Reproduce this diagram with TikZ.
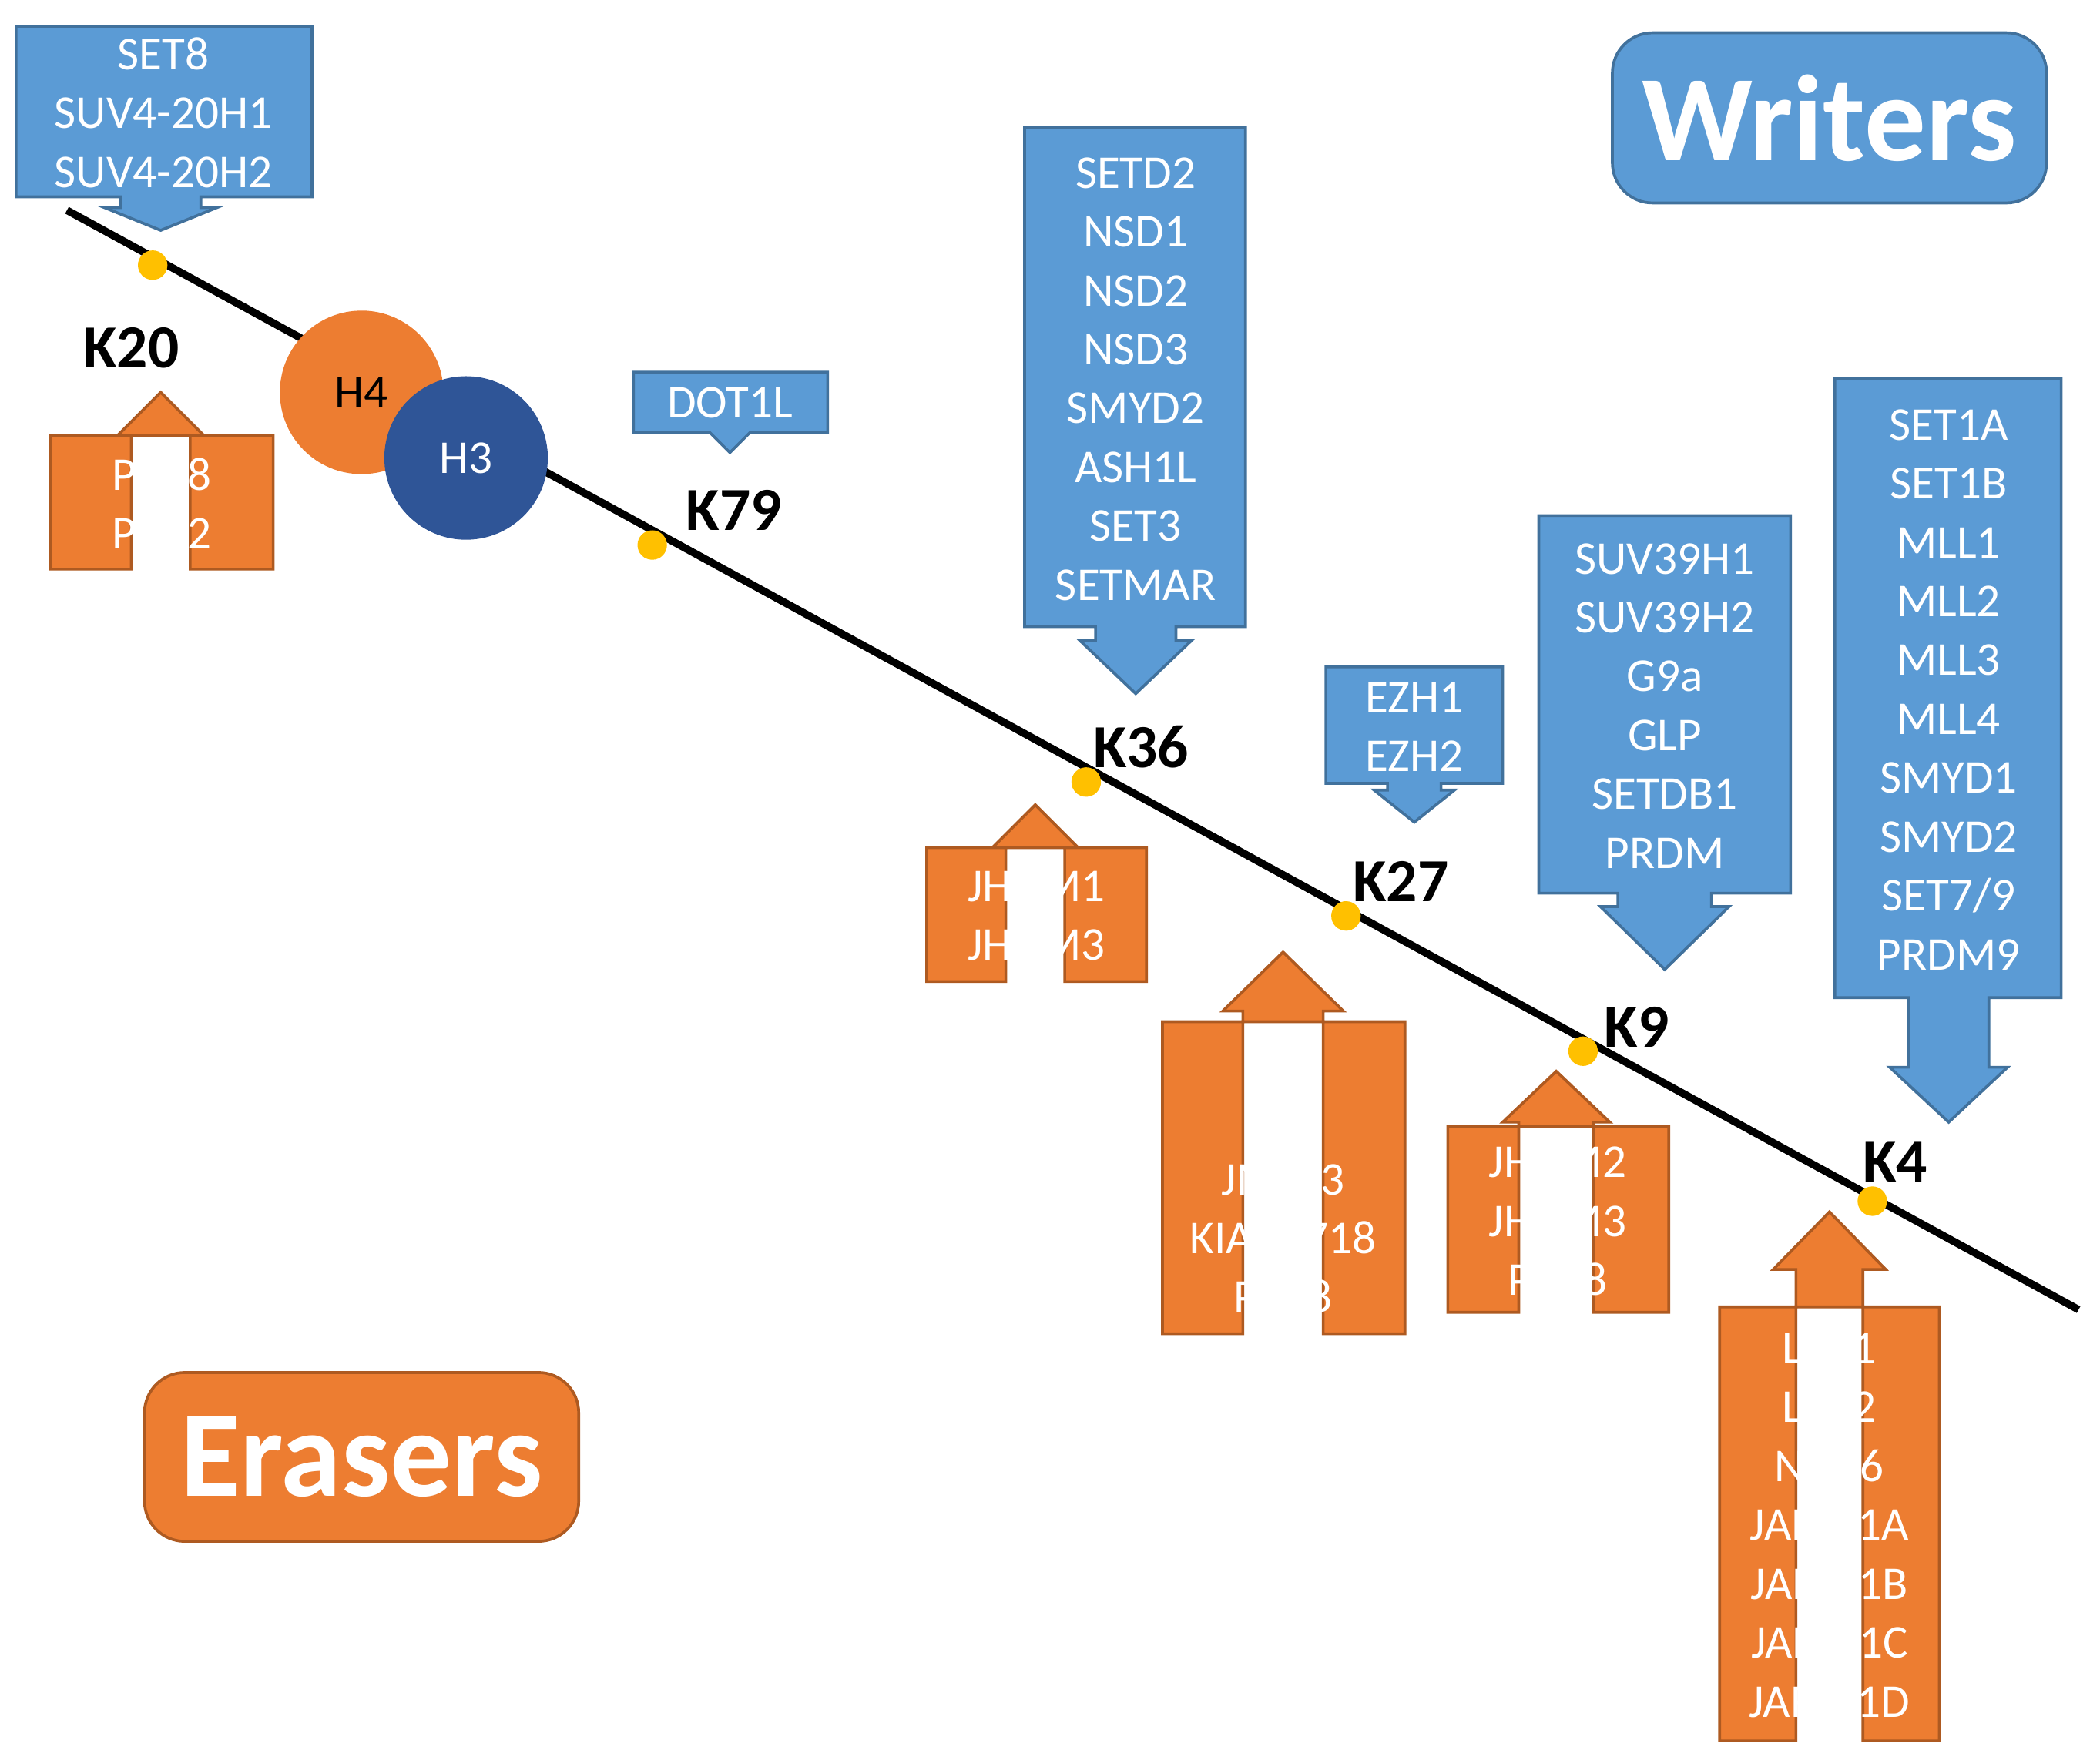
\documentclass[tikz,border=0pt]{standalone}
\usepackage{fontspec}
\setmainfont{Carlito}
\definecolor{wblue}{RGB}{91,155,213}
\definecolor{wbord}{RGB}{65,113,156}
\definecolor{eor}{RGB}{237,125,49}
\definecolor{ebord}{RGB}{174,90,33}
\definecolor{hblue}{RGB}{47,85,151}
\definecolor{dotc}{RGB}{255,192,0}
\newcommand{\callout}[9]{%
 \path (#1,#2) -- (#3,#2) -- (#3,#4) -- (#5+#6,#4) -- (#5+#6,#8) -- (#5+#7,#8) -- (#5,#9) -- (#5-#7,#8) -- (#5-#6,#8) -- (#5-#6,#4) -- (#1,#4) -- cycle;}
\begin{document}
\begin{tikzpicture}[x=0.01cm,y=-0.01cm,
 wr/.style={fill=wblue,draw=wbord,line width=0.6pt},
 er/.style={fill=eor,draw=ebord,line width=0.6pt},
 txt/.style={text=white,align=center,font=\fontsize{10}{12.5}\selectfont,inner sep=0},
 klab/.style={font=\bfseries\fontsize{13}{15}\selectfont,inner sep=0},
 dot/.style={circle,fill=dotc,inner sep=0,minimum size=0.22cm}]
\useasboundingbox (0,0) rectangle (1568,1314);
% main line
\coordinate (ls) at (50,157); \coordinate (le) at (1552,978);
\draw[line width=1.6pt] (ls) -- (le);
% writers
\begin{scope}[every path/.style={wr}]
\callout{12}{20}{233}{147}{120}{30}{42}{155}{172}
\callout{473}{278}{618}{323}{545}{15}{15}{323}{338}
\callout{765}{95}{930}{468}{848}{30}{42}{478}{518}
\callout{990}{498}{1122}{585}{1056}{20}{30}{590}{614}
\callout{1149}{385}{1337}{667}{1243}{35}{48}{677}{724}
\callout{1370}{283}{1539}{745}{1455}{30}{44}{797}{838}
\end{scope}
\begin{scope}[every path/.style={er}]
\callout{38}{325}{204}{425}{120}{22}{32}{325}{293}
\callout{692}{633}{856}{733}{773}{22}{32}{633}{601}
\callout{868}{763}{1049}{996}{958}{30}{45}{755}{711}
\callout{1081}{841}{1246}{980}{1162}{28}{40}{838}{800}
\callout{1284}{976}{1448}{1300}{1366}{25}{42}{948}{905}
\end{scope}
\node[txt] (w1) at (122,84) {SET8\\SUV4-20H1\\SUV4-20H2};
\node[txt] (w2) at (545,301) {DOT1L};
\node[txt] (w3) at (848,283) {SETD2\\NSD1\\NSD2\\NSD3\\SMYD2\\ASH1L\\SET3\\SETMAR};
\node[txt] (w4) at (1056,543) {EZH1\\EZH2};
\node[txt] (w5) at (1243,527) {SUV39H1\\SUV39H2\\G9a\\GLP\\SETDB1\\PRDM};
\node[txt] (w6) at (1455,515) {SET1A\\SET1B\\MLL1\\MLL2\\MLL3\\MLL4\\SMYD1\\SMYD2\\SET7/9\\PRDM9};
\node[txt] (e1) at (121,376) {PHF8\\PHF2};
\node[txt] (e2) at (774,684) {JHDM1\\JHDM3};
\node[txt] (e3) at (958,881) {UTX\\UTY\\JMJD3\\KIAA1718\\PHF8};
\node[txt] (e4) at (1163,912) {JHDM2\\JHDM3\\PHF8};
\node[txt] (e5) at (1366,1139) {LSD1\\LSD2\\NO66\\JARID1A\\JARID1B\\JARID1C\\JARID1D};
% histones
\node[circle,fill=eor,minimum size=1.22cm,inner sep=0,font=\fontsize{10}{12}\selectfont] (h4) at (270,293) {H4};
\node[circle,fill=hblue,minimum size=1.22cm,inner sep=0,text=white,font=\fontsize{10}{12}\selectfont] (h3) at (348,342) {H3};
% dots and labels
\node[dot] (d20) at (114,198) {};
\node[dot] (d79) at (487,407) {};
\node[dot] (d36) at (811,584) {};
\node[dot] (d27) at (1005,684) {};
\node[dot] (d9) at (1182,785) {};
\node[dot] (d4) at (1398,897) {};
\node[klab] (k20) at (98,260) {K20};
\node[klab] (k79) at (548,381) {K79};
\node[klab] (k36) at (852,558) {K36};
\node[klab] (k27) at (1046,658) {K27};
\node[klab] (k9) at (1222,767) {K9};
\node[klab] (k4) at (1415,868) {K4};
% titles
\node[wr,rounded corners=0.3cm,minimum width=3.24cm,minimum height=1.27cm,text=white,font=\bfseries\fontsize{26}{30}\selectfont] (writers) at (1366,88) {Writers};
\node[er,rounded corners=0.3cm,minimum width=3.24cm,minimum height=1.26cm,text=white,font=\bfseries\fontsize{26}{30}\selectfont] (erasers) at (270,1088) {Erasers};
\end{tikzpicture}
\end{document}
